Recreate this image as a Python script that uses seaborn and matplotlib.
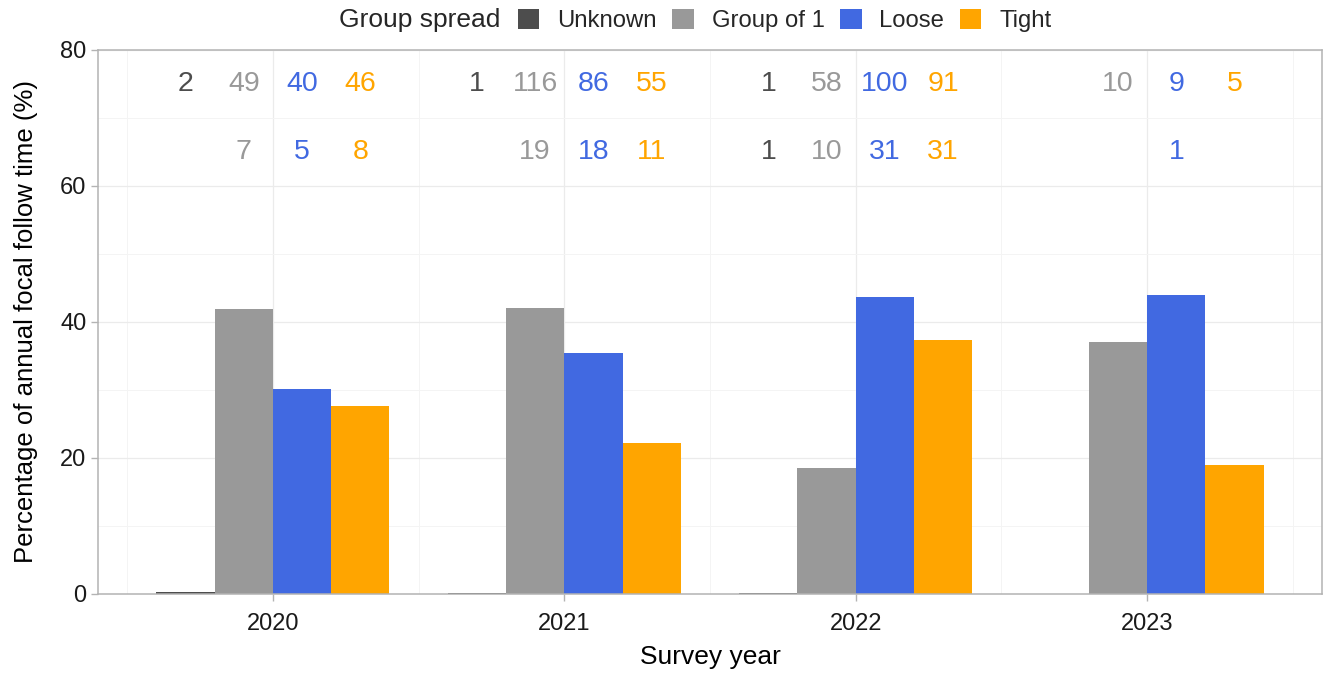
import numpy as np
import pandas as pd
import matplotlib
matplotlib.use("Agg")
import matplotlib.pyplot as plt
from matplotlib.patches import Patch
from matplotlib.ticker import MultipleLocator
import seaborn as sns

# data
years = ["2020", "2021", "2022", "2023"]
spreads = ["Unknown", "Group of 1", "Loose", "Tight"]
colors = ["#4D4D4D", "#999999", "#4169E1", "#FFA500"]

pct_unknown = [0.3, 0.15, 0.2, np.nan]
pct_group1 = [41.9, 42.1, 18.6, 37.1]
pct_loose = [30.1, 35.5, 43.7, 43.9]
pct_tight = [27.6, 22.2, 37.4, 18.9]

# counts printed above the bars (top row and second row), "" = none
n_top = [["2", "49", "40", "46"],
         ["1", "116", "86", "55"],
         ["1", "58", "100", "91"],
         ["", "10", "9", "5"]]
n_bottom = [["", "7", "5", "8"],
            ["", "19", "18", "11"],
            ["1", "10", "31", "31"],
            ["", "", "1", ""]]
label_y = [75, 65]


def build_frame():
    rows = []
    for k, vals in enumerate([pct_unknown, pct_group1, pct_loose, pct_tight]):
        for year, v in zip(years, vals):
            rows.append((year, spreads[k], v))
    return pd.DataFrame(rows, columns=["year", "spread", "pct"])


def main():
    sns.set_style("white")
    plt.rcParams["font.family"] = ["Liberation Sans", "DejaVu Sans"]

    df = build_frame()
    fig = plt.figure(figsize=(13.27, 6.75), dpi=100)
    ax = fig.add_axes([0.0739, 0.12, 0.9223, 0.806])

    sns.barplot(
        data=df.dropna(),
        x="year",
        y="pct",
        hue="spread",
        order=years,
        hue_order=spreads,
        palette=colors,
        width=0.8,
        saturation=1,
        linewidth=0,
        legend=False,
        ax=ax,
    )

    # count labels at the dodged bar positions
    for i in range(len(years)):
        for j in range(len(spreads)):
            xpos = i + (j - 1.5) * 0.2
            for labels, yv in zip([n_top, n_bottom], label_y):
                if labels[i][j]:
                    ax.text(xpos, yv, labels[i][j], color=colors[j],
                            ha="center", va="center", fontsize=20.5)

    ax.set_xlim(-0.6, 3.6)
    ax.set_ylim(0, 80)
    ax.yaxis.set_major_locator(MultipleLocator(20))
    ax.yaxis.set_minor_locator(MultipleLocator(10))
    ax.set_xticks(range(len(years)), minor=False)
    ax.set_xticks([-0.5, 0.5, 1.5, 2.5, 3.5], minor=True)
    ax.grid(which="major", color="#EBEBEB", linewidth=0.9)
    ax.grid(which="minor", color="#F4F4F4", linewidth=0.7)
    ax.set_axisbelow(True)

    for side in ax.spines.values():
        side.set_visible(True)
        side.set_color("#B3B3B3")
        side.set_linewidth(1.1)

    ax.tick_params(axis="both", which="major", length=5, width=1,
                   color="#B3B3B3", labelsize=17, labelcolor="#1A1A1A",
                   direction="out", bottom=True, left=True)
    ax.tick_params(axis="x", which="major", pad=9)
    ax.tick_params(axis="both", which="minor", length=0)

    ax.set_xlabel("Survey year", fontsize=19, color="black", labelpad=7)
    ax.set_ylabel("Percentage of annual focal follow time (%)", fontsize=18.5,
                  color="black", labelpad=16)

    # legend across the top
    handles = [Patch(facecolor=c, edgecolor="none") for c in colors]
    fig.legend(handles, spreads, loc="center left",
               bbox_to_anchor=(0.383, 0.970), ncol=4, frameon=False,
               fontsize=17.2, handlelength=0.9, handleheight=0.9,
               handletextpad=0.75, columnspacing=0.65, borderaxespad=0)
    fig.text(0.2555, 0.970, "Group spread", fontsize=19, va="center",
             ha="left")

    fig.savefig("out.png", dpi=100)


if __name__ == "__main__":
    main()
